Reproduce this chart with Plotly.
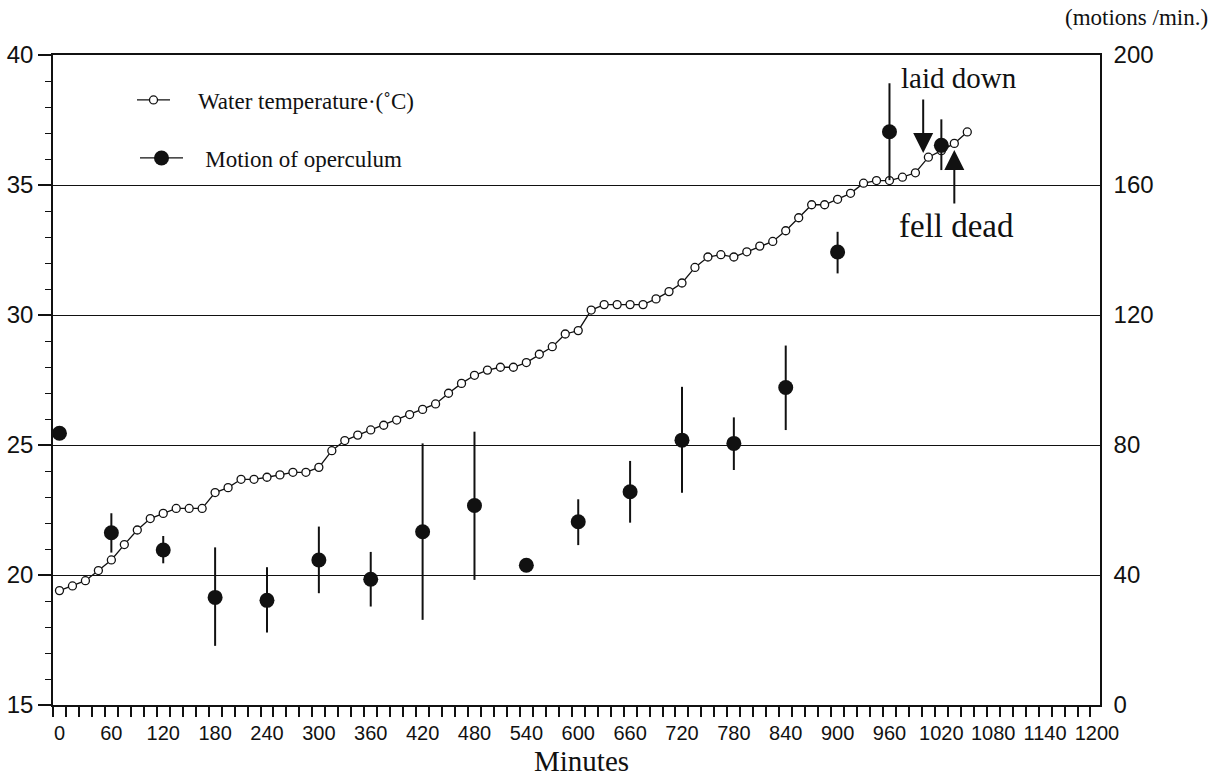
import plotly.graph_objects as go

# ---- data ----
temp_minutes = [0, 15, 30, 45, 60, 75, 90, 105, 120, 135, 150, 165, 180, 195, 210, 225,
                240, 255, 270, 285, 300, 315, 330, 345, 360, 375, 390, 405, 420, 435,
                450, 465, 480, 495, 510, 525, 540, 555, 570, 585, 600, 615, 630, 645,
                660, 675, 690, 705, 720, 735, 750, 765, 780, 795, 810, 825, 840, 855,
                870, 885, 900, 915, 930, 945, 960, 975, 990, 1005, 1020, 1035, 1050]
water_temp = [19.40, 19.58, 19.78, 20.17, 20.58, 21.17, 21.73, 22.17, 22.37, 22.56,
              22.56, 22.56, 23.17, 23.36, 23.68, 23.68, 23.76, 23.85, 23.95, 23.95,
              24.14, 24.78, 25.17, 25.38, 25.58, 25.76, 25.96, 26.17, 26.37, 26.58,
              26.99, 27.37, 27.68, 27.88, 27.99, 27.99, 28.17, 28.49, 28.78, 29.27,
              29.40, 30.19, 30.40, 30.40, 30.40, 30.40, 30.62, 30.90, 31.23, 31.83,
              32.23, 32.32, 32.23, 32.43, 32.65, 32.83, 33.24, 33.74, 34.24, 34.24,
              34.45, 34.68, 35.07, 35.17, 35.17, 35.30, 35.47, 36.07, 36.32, 36.60,
              37.04]

motion_minutes = [0, 60, 120, 180, 240, 300, 360, 420, 480, 540, 600, 660, 720, 780,
                  840, 900, 960, 1020]
motion_mean = [83.6, 53.0, 47.7, 33.1, 32.2, 44.6, 38.7, 53.3, 61.4, 43.0, 56.4, 65.6,
               81.5, 80.5, 97.7, 139.4, 176.4, 172.2]
motion_high = [83.6, 59.0, 52.0, 48.5, 42.4, 54.9, 47.1, 80.5, 84.1, 43.0, 63.3, 75.1,
               97.9, 88.5, 110.6, 145.6, 191.3, 180.2]
motion_low = [83.6, 46.9, 43.6, 18.2, 22.3, 34.4, 30.3, 26.2, 38.5, 43.0, 49.2, 56.1,
              65.3, 72.3, 84.6, 132.8, 161.5, 164.6]

x_ticks = list(range(0, 1201, 60))
left_ticks = [15, 20, 25, 30, 35, 40]
right_ticks = [0, 40, 80, 120, 160, 200]

err_plus = [h - m for h, m in zip(motion_high, motion_mean)]
err_minus = [m - l for m, l in zip(motion_mean, motion_low)]

SANS = "Liberation Sans, Arial, sans-serif"
SERIF = "Liberation Serif, Times New Roman, serif"
INK = "#111111"
NB = "\u00a0"

fig = go.Figure()

fig.add_trace(go.Scatter(
    x=temp_minutes, y=water_temp, mode="lines+markers",
    name=NB * 4 + "Water temperature\u00b7(\u02daC)",
    line=dict(color=INK, width=1.3),
    marker=dict(symbol="circle", size=8, color="white", line=dict(color=INK, width=1.3)),
    legend="legend",
))

fig.add_trace(go.Scatter(
    x=motion_minutes, y=motion_mean, mode="markers", yaxis="y2",
    marker=dict(size=15, color=INK),
    error_y=dict(type="data", symmetric=False, array=err_plus, arrayminus=err_minus,
                 width=0, thickness=2, color=INK),
    showlegend=False,
))

# legend entry for the motion series (line + dot as drawn in the reference legend)
fig.add_trace(go.Scatter(
    x=[None], y=[None], mode="lines+markers", yaxis="y2",
    name=NB * 3 + "Motion of operculum",
    line=dict(color=INK, width=1.3),
    marker=dict(size=15, color=INK),
    legend="legend2",
))

annotations = [
    dict(x=999, y=36.23, ax=999, ay=38.35, xref="x", yref="y", axref="x", ayref="y",
         text="", showarrow=True, arrowhead=2, arrowsize=2, arrowwidth=2,
         arrowcolor=INK),
    dict(x=1035, y=36.35, ax=1035, ay=34.23, xref="x", yref="y", axref="x", ayref="y",
         text="", showarrow=True, arrowhead=2, arrowsize=2, arrowwidth=2,
         arrowcolor=INK),
    dict(x=1040, y=39.12, xref="x", yref="y", text="laid down", showarrow=False,
         font=dict(family=SERIF, size=29, color=INK)),
    dict(x=1037, y=33.42, xref="x", yref="y", text="fell dead", showarrow=False,
         font=dict(family=SERIF, size=33, color=INK)),
    dict(x=1.105, y=1.057, xref="paper", yref="paper", text="(motions /min.)",
         showarrow=False, xanchor="right", yanchor="middle",
         font=dict(family=SERIF, size=23, color=INK)),
    dict(x=0.505, y=-0.1138, xref="paper", yref="paper", text="Minutes",
         showarrow=False, xanchor="center", yanchor="bottom",
         font=dict(family=SERIF, size=29, color=INK)),
]

fig.update_layout(
    width=1217, height=782, autosize=False,
    margin=dict(l=53, r=117, t=55, b=77, autoexpand=False),
    paper_bgcolor="white", plot_bgcolor="white",
    showlegend=True,
    legend=dict(x=(132 - 53) / 1047, y=1 - (100 - 55) / 650, xanchor="left",
                yanchor="middle", bgcolor="rgba(0,0,0,0)", borderwidth=0,
                font=dict(family=SERIF, size=23, color=INK), itemwidth=33),
    legend2=dict(x=(135 - 53) / 1047, y=1 - (158 - 55) / 650, xanchor="left",
                 yanchor="middle", bgcolor="rgba(0,0,0,0)", borderwidth=0,
                 font=dict(family=SERIF, size=23, color=INK), itemwidth=43),
    annotations=annotations,
    xaxis=dict(
        range=[-7.5, 1203.5], tickmode="array", tickvals=x_ticks,
        ticktext=[str(v) for v in x_ticks], ticks="", ticklabelstandoff=9,
        tickfont=dict(family=SANS, size=20, color=INK), automargin=False,
        showline=True, linecolor=INK, linewidth=1.5, mirror=True,
        showgrid=False, zeroline=False,
        minor=dict(tick0=-7.5, dtick=15, ticks="outside", ticklen=10, tickwidth=1.5,
                   tickcolor=INK, showgrid=False),
    ),
    yaxis=dict(
        range=[15, 40], tickmode="array", tickvals=left_ticks, automargin=False,
        ticks="outside", ticklen=13, tickwidth=1.5, tickcolor=INK,
        tickfont=dict(family=SANS, size=24, color=INK),
        showline=True, linecolor=INK, linewidth=1.5,
        showgrid=True, gridcolor=INK, gridwidth=1.2, zeroline=False,
        minor=dict(dtick=1, ticks="outside", ticklen=6, tickwidth=1.2, tickcolor=INK,
                   showgrid=False),
    ),
    yaxis2=dict(
        range=[0, 200], overlaying="y", side="right", tickmode="array",
        tickvals=right_ticks, ticks="", ticklabelstandoff=7, automargin=False,
        tickfont=dict(family=SANS, size=24, color=INK),
        showline=True, linecolor=INK, linewidth=1.5,
        showgrid=False, zeroline=False,
    ),
)

fig.write_html(
    "out.html",
    config={"displayModeBar": False},
    post_script="document.body.style.margin='0px';document.body.style.overflow='hidden';",
)
